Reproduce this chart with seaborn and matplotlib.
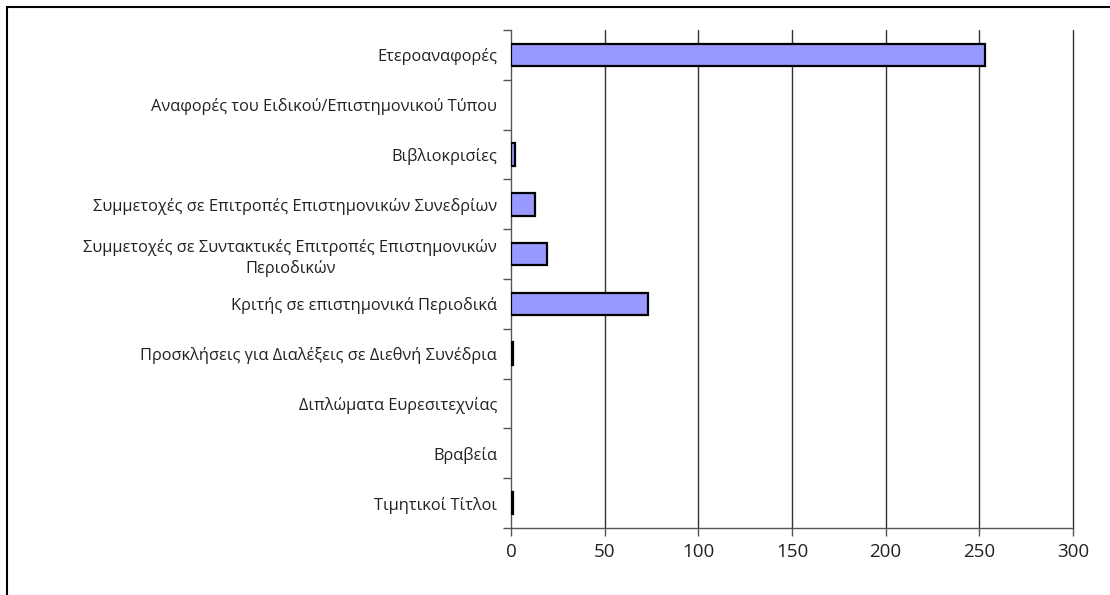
import numpy as np
import pandas as pd
import matplotlib
matplotlib.use("Agg")
import matplotlib.pyplot as plt
import seaborn as sns
from matplotlib.patches import Rectangle

# --- δεδομένα ---
categories = [
    "Ετεροαναφορές",
    "Αναφορές του Ειδικού/Επιστημονικού Τύπου",
    "Βιβλιοκρισίες",
    "Συμμετοχές σε Επιτροπές Επιστημονικών Συνεδρίων",
    "Συμμετοχές σε Συντακτικές Επιτροπές Επιστημονικών\nΠεριοδικών",
    "Κριτής σε επιστημονικά Περιοδικά",
    "Προσκλήσεις για Διαλέξεις σε Διεθνή Συνέδρια",
    "Διπλώματα Ευρεσιτεχνίας",
    "Βραβεία",
    "Τιμητικοί Τίτλοι",
]
values = [253, 0, 2, 13, 19, 73, 1, 0, 0, 1]
x_ticks = [0, 50, 100, 150, 200, 250, 300]

df = pd.DataFrame({"cat": categories, "val": values})

sns.set_theme(style="white")
plt.rcParams['font.family'] = ['Open Sans', 'DejaVu Sans']

fig = plt.figure(figsize=(11.1, 5.95), dpi=100)
ax = fig.add_axes([511 / 1110, 1 - 528 / 595, (1073 - 511) / 1110, (528 - 30) / 595])

sns.barplot(data=df, x="val", y="cat", orient="h", ax=ax, color="#9999FF",
            saturation=1, width=0.45, edgecolor="black", linewidth=1.6, zorder=3)

# μηδενικές τιμές: χωρίς περίγραμμα
for p in ax.patches:
    if p.get_width() == 0:
        p.set_visible(False)

ax.set_xlim(0, 300)
ax.set_ylim(len(categories) - 0.5, -0.5)
ax.set_xticks(x_ticks)
ax.set_xticklabels([str(t) for t in x_ticks], fontsize=13.5, color="#222222")
ax.set_xlabel("")
ax.set_ylabel("")

# κατακόρυφες γραμμές πλέγματος
for t in x_ticks[1:]:
    ax.axvline(t, color="#333333", linewidth=1, zorder=1, clip_on=False)

# ετικέτες κατηγοριών στο κέντρο, γραμμές υποδιαίρεσης στα όρια
ax.set_yticks(range(len(categories)))
ax.set_yticklabels(categories, fontsize=11.8, color="#222222",
                   multialignment="center", linespacing=1.3)
ax.tick_params(axis="y", which="major", length=0, pad=10)
ax.set_yticks(np.arange(-0.5, len(categories), 1), minor=True)
ax.tick_params(axis="y", which="minor", length=6, width=1, color="#555555", left=True)
ax.tick_params(axis="x", which="major", length=6, width=1, color="#555555", bottom=True, pad=5)

for side in ["top", "right"]:
    ax.spines[side].set_visible(False)
for side in ["left", "bottom"]:
    ax.spines[side].set_color("#555555")
    ax.spines[side].set_linewidth(1)

# πλαίσιο γύρω από το γράφημα
fig.patches.append(Rectangle((7 / 1110, -0.1), 1.2, 1 - 7 / 595 + 0.1,
                             transform=fig.transFigure, fill=False,
                             edgecolor="black", linewidth=1.5))

fig.savefig("out.png", dpi=100)
